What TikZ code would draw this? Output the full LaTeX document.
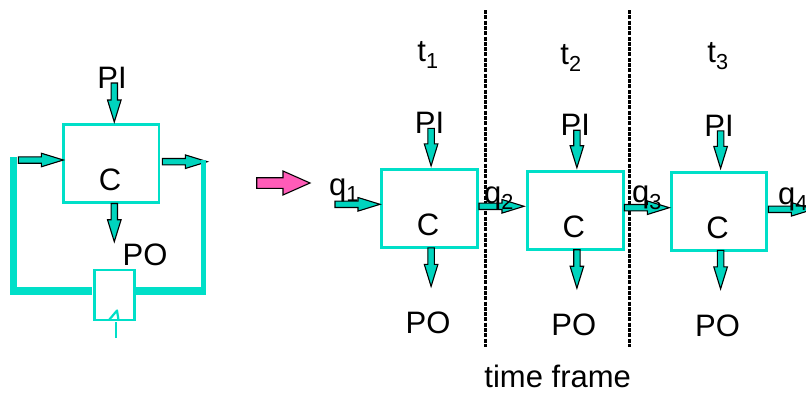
\documentclass[tikz,border=0pt]{standalone}
\usepackage{fontspec}
\setmainfont{Liberation Sans}
\usepackage{xcolor}
\usetikzlibrary{calc}
\definecolor{wire}{HTML}{00DFC8}
\definecolor{tip}{HTML}{00D4BE}
\definecolor{jump}{HTML}{FF5CB8}
\tikzset{
  cbox/.style={draw=wire,line width=2.9pt,minimum width=95.5pt,minimum height=78pt,inner sep=0pt},
  ffbox/.style={draw=wire,line width=2.4pt,minimum width=40pt,minimum height=50pt,inner sep=0pt},
  lbl/.style={inner sep=0pt,font=\fontsize{31}{31}\selectfont},
  sep/.style={line width=3pt,dash pattern=on 4pt off 1.3pt}
}
% #1 head length, #2 head half width, #3 shaft half width, #4 fill, #5 from, #6 to
\newcommand{\fatarrow}[6]{%
  \draw[black,line width=1.1pt,line join=miter,fill=#4]
    ($(#5)!#3pt!90:(#6)$) --
    ($($(#6)!#1pt!(#5)$)!#3pt!90:(#6)$) --
    ($($(#6)!#1pt!(#5)$)!#2pt!90:(#6)$) -- (#6) --
    ($($(#6)!#1pt!(#5)$)!#2pt!-90:(#6)$) --
    ($($(#6)!#1pt!(#5)$)!#3pt!-90:(#6)$) --
    ($(#5)!#3pt!-90:(#6)$) -- cycle;
}
\newcommand{\tealarrow}[2]{\fatarrow{22}{6.8}{3.2}{tip}{#1}{#2}}
% one time frame: #1 name, #2 x, #3 y
\newcommand{\framecol}[3]{%
  \node[cbox] (c#1) at (#2,#3) {};
  \node[lbl] (pi#1) at ($(c#1)+(0,-86)$) {PI};
  \node[lbl] (cl#1) at ($(c#1)+(-1.5,16.2)$) {C};
  \node[lbl] (po#1) at ($(c#1)+(-1.5,114)$) {PO};
  \coordinate (pt#1) at ($(c#1)+(1.6,-80.5)$);
  \coordinate (ph#1) at ($(c#1)+(1.6,-43)$);
  \coordinate (ot#1) at ($(c#1)+(1.6,39)$);
  \coordinate (oh#1) at ($(c#1)+(1.6,77.5)$);
  \tealarrow{pt#1}{ph#1}
  \tealarrow{ot#1}{oh#1}
}
\begin{document}
\begin{tikzpicture}[x=1pt,y=-1pt]
\useasboundingbox (0,0) rectangle (806,392);
\clip (0,0) rectangle (806,392);
% sequential circuit
\node[cbox] (cl) at (111.2,163.2) {};
\node[ffbox] (ff) at (114.3,295) {};
\node[lbl] (pil) at (112,78) {PI};
\node[lbl] (lc) at (110,180) {C};
\node[lbl] (pol) at (145,255) {PO};
\coordinate (pit) at (114.3,83);
\coordinate (pih) at (114.3,122);
\coordinate (pot) at (114.3,203.5);
\coordinate (poh) at (114.3,241.7);
\coordinate (qit) at (18.3,160);
\coordinate (qih) at (63.3,160);
\coordinate (qot) at (162.3,161.7);
\coordinate (qoh) at (207.3,161.7);
\tealarrow{pit}{pih}
\tealarrow{pot}{poh}
\tealarrow{qit}{qih}
\tealarrow{qot}{qoh}
% feedback
\draw[wire,line width=7.4pt,line join=miter] (13.7,157.3) -- (13.7,291) -- (92.3,291);
\draw[wire,line width=7.4pt] (136,291) -- (206,291);
\draw[wire,line width=4.8pt] (203.3,160) -- (203.3,294.7);
\coordinate (clkb) at (116,338);
\coordinate (clkt) at (117,310.5);
\draw[wire,line width=2.2pt,line join=round] (clkb) -- (116,322);
\draw[wire,line width=2.2pt,line join=round] (109,320) -- (clkt) -- (118.5,320);
% unroll
\coordinate (jt) at (256.7,183);
\coordinate (jh) at (310,183);
\fatarrow{27}{12}{5.3}{jump}{jt}{jh}
% frames
\coordinate (sa) at (485.3,10);
\coordinate (sb) at (485.3,346.7);
\coordinate (sc) at (629.7,10);
\coordinate (sd) at (629.7,346.7);
\draw[sep] (sa) -- (sb);
\draw[sep] (sc) -- (sd);
\framecol{a}{429.5}{208.9}
\framecol{b}{575.3}{210.7}
\framecol{d}{719}{211.4}
\coordinate (qat) at (335,204.3);
\coordinate (qah) at (380,204.3);
\coordinate (qbt) at (479,206.3);
\coordinate (qbh) at (524,206.3);
\coordinate (qct) at (624.3,207.7);
\coordinate (qch) at (669.3,207.7);
\coordinate (qdt) at (768.3,209.3);
\coordinate (qdh) at (813.3,209.3);
\tealarrow{qat}{qah}
\tealarrow{qbt}{qbh}
\tealarrow{qct}{qch}
\tealarrow{qdt}{qdh}
\node[lbl] (qa) at (344,190) {q\textsubscript{1}};
\node[lbl] (qb) at (499,198) {q\textsubscript{2}};
\node[lbl] (qc) at (647,198) {q\textsubscript{3}};
\node[lbl] (qd) at (793,199) {q\textsubscript{4}};
\node[lbl] (ta) at (428,55) {t\textsubscript{1}};
\node[lbl] (tb) at (571,58) {t\textsubscript{2}};
\node[lbl] (tc) at (718,56) {t\textsubscript{3}};
\node[lbl] (tf) at (557.7,376) {time frame};
\end{tikzpicture}
\end{document}
